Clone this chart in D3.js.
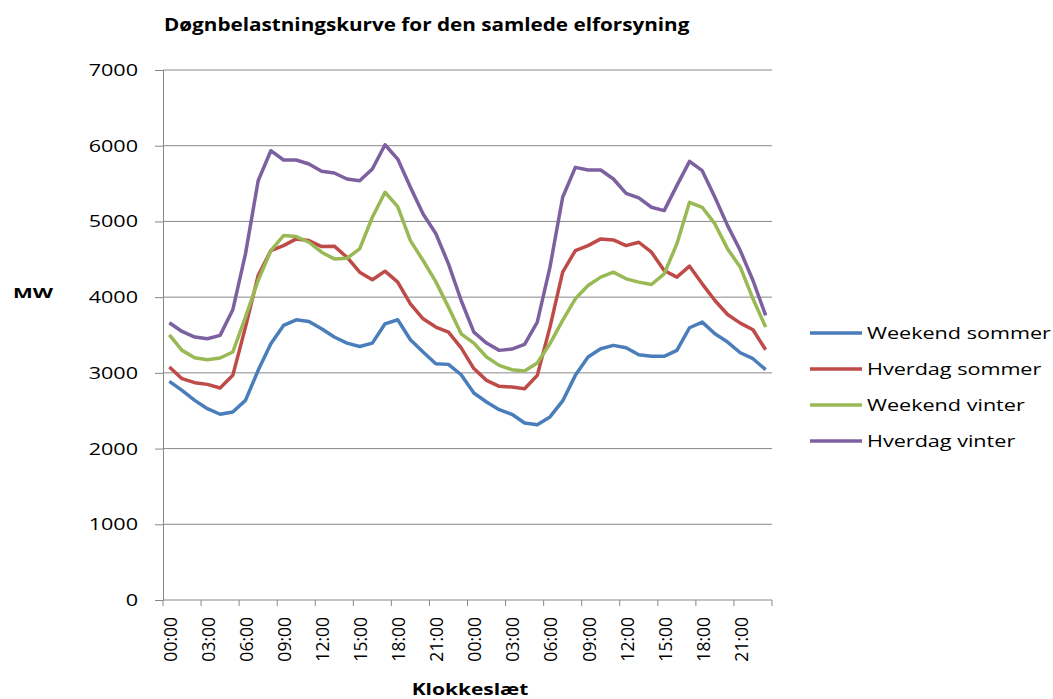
<!DOCTYPE html>
<html>
<head>
<meta charset="utf-8">
<script src="https://cdn.jsdelivr.net/npm/d3@7"></script>
<style>
  body { margin: 0; background: #fff; }
  svg { font-family: "Open Sans", "Liberation Sans", sans-serif; }
</style>
</head>
<body>
<svg id="chart" width="1053" height="699"></svg>
<script>
// hourly values, two days (48 points)
const hours = d3.range(48).map(i => String(i % 24).padStart(2, "0") + ":00");

const weekendSommer = [2888, 2769, 2637, 2527, 2453, 2484, 2637, 3033, 3385, 3626, 3701, 3679,
    3582, 3473, 3393, 3349, 3393, 3648, 3701, 3437, 3275, 3121, 3112, 2975,
    2734, 2615, 2514, 2453, 2338, 2316, 2418, 2629, 2967, 3209, 3319, 3363,
    3332, 3240, 3218, 3218, 3297, 3596, 3670, 3516, 3407, 3266, 3187, 3042];

const hverdagSommer = [3077, 2923, 2870, 2848, 2800, 2967, 3604, 4286, 4615, 4681, 4769, 4747,
    4668, 4673, 4527, 4330, 4229, 4343, 4198, 3912, 3714, 3605, 3538, 3330,
    3057, 2901, 2822, 2813, 2791, 2967, 3604, 4330, 4615, 4681, 4769, 4756,
    4681, 4725, 4593, 4352, 4264, 4409, 4176, 3956, 3771, 3657, 3569, 3305];

const weekendVinter = [3503, 3297, 3200, 3174, 3196, 3275, 3736, 4220, 4615, 4813, 4800, 4725,
    4593, 4505, 4514, 4637, 5055, 5385, 5196, 4747, 4484, 4205, 3868, 3516,
    3393, 3209, 3099, 3042, 3024, 3130, 3385, 3692, 3978, 4154, 4264, 4330,
    4242, 4198, 4167, 4308, 4703, 5253, 5187, 4967, 4637, 4396, 3978, 3604];

const hverdagVinter = [3662, 3547, 3473, 3451, 3495, 3833, 4571, 5538, 5934, 5811, 5811, 5758,
    5662, 5640, 5560, 5538, 5692, 6013, 5824, 5451, 5099, 4840, 4440, 3956,
    3538, 3393, 3297, 3314, 3376, 3670, 4396, 5319, 5714, 5679, 5679, 5560,
    5371, 5310, 5187, 5143, 5473, 5793, 5670, 5319, 4945, 4615, 4220, 3758];

const seriesNames = ["Weekend sommer", "Hverdag sommer", "Weekend vinter", "Hverdag vinter"];
const seriesColors = ["#4a7ebb", "#be4b48", "#98b954", "#7d60a0"];
const yTicks = [0, 1000, 2000, 3000, 4000, 5000, 6000, 7000];

const series = [weekendSommer, hverdagSommer, weekendVinter, hverdagVinter];

const svg = d3.select("#chart");
const plotLeft = 163, plotRight = 772, plotTop = 70, plotBottom = 600;
const stretch = 1.27;   // the original picture is a bit wide, text included

const x = d3.scaleBand().domain(d3.range(48)).range([plotLeft, plotRight]);
const y = d3.scaleLinear().domain([0, 7000]).range([plotBottom, plotTop]);

// wide text helper
function wideText(g, tx, ty, sx) {
    return g.append("text")
        .attr("transform", `translate(${tx},${ty}) scale(${sx},1)`);
}

// gridlines
svg.append("g")
    .selectAll("line")
    .data(yTicks.slice(1))
    .enter().append("line")
    .attr("x1", plotLeft).attr("x2", plotRight)
    .attr("y1", d => y(d)).attr("y2", d => y(d))
    .attr("stroke", "#888").attr("stroke-width", 1);

// y axis
const yAxis = svg.append("g")
    .attr("transform", `translate(${plotLeft},0)`)
    .call(d3.axisLeft(y).tickValues(yTicks).tickSize(8).tickFormat(d3.format("d")));
yAxis.select(".domain").attr("stroke", "#888");
yAxis.selectAll(".tick line").attr("stroke", "#888");
yAxis.selectAll(".tick text")
    .attr("x", 0)
    .attr("transform", "translate(-25,0) scale(" + stretch + ",1)")
    .attr("font-size", 17).attr("fill", "#000")
    .attr("font-family", "Open Sans, sans-serif");

// x axis: ticks every 3 hours at band boundaries
const xAxisG = svg.append("g").attr("transform", `translate(0,${plotBottom})`);
xAxisG.append("line")
    .attr("x1", plotLeft).attr("x2", plotRight)
    .attr("stroke", "#888");
xAxisG.selectAll("line.tk")
    .data(d3.range(0, 49, 3))
    .enter().append("line")
    .attr("class", "tk")
    .attr("x1", d => plotLeft + d * x.bandwidth()).attr("x2", d => plotLeft + d * x.bandwidth())
    .attr("y1", 0).attr("y2", 6)
    .attr("stroke", "#888");
xAxisG.selectAll("text")
    .data(d3.range(0, 48, 3))
    .enter().append("text")
    .attr("transform", d => `translate(${x(d) + x.bandwidth() / 2 + 7.5},17) rotate(-90)`)
    .attr("text-anchor", "end")
    .attr("font-size", 17.5)
    .text(d => hours[d]);

// lines
const line = d3.line()
    .x((d, i) => x(i) + x.bandwidth() / 2)
    .y(d => y(d));

svg.append("g")
    .selectAll("path")
    .data(series)
    .enter().append("path")
    .attr("d", line)
    .attr("fill", "none")
    .attr("stroke", (d, i) => seriesColors[i])
    .attr("stroke-width", 3.5)
    .attr("stroke-linejoin", "round");

// title and axis titles
wideText(svg, 164, 31, 1.15)
    .attr("font-size", 18).attr("font-weight", "bold")
    .text("Døgnbelastningskurve for den samlede elforsyning");

wideText(svg, 13, 298, 1.4)
    .attr("font-size", 15).attr("font-weight", "bold")
    .text("MW");

wideText(svg, 470, 695, stretch)
    .attr("text-anchor", "middle")
    .attr("font-size", 16.5).attr("font-weight", "bold")
    .text("Klokkeslæt");

// legend
const legend = svg.append("g")
    .selectAll("g")
    .data(seriesNames)
    .enter().append("g")
    .attr("transform", (d, i) => `translate(810,${333 + i * 36})`);
legend.append("line")
    .attr("x1", 0).attr("x2", 52)
    .attr("stroke", (d, i) => seriesColors[i])
    .attr("stroke-width", 3.5);
legend.append("text")
    .attr("transform", `translate(57,6) scale(${stretch},1)`)
    .attr("font-size", 17)
    .text(d => d);
</script>
</body>
</html>
